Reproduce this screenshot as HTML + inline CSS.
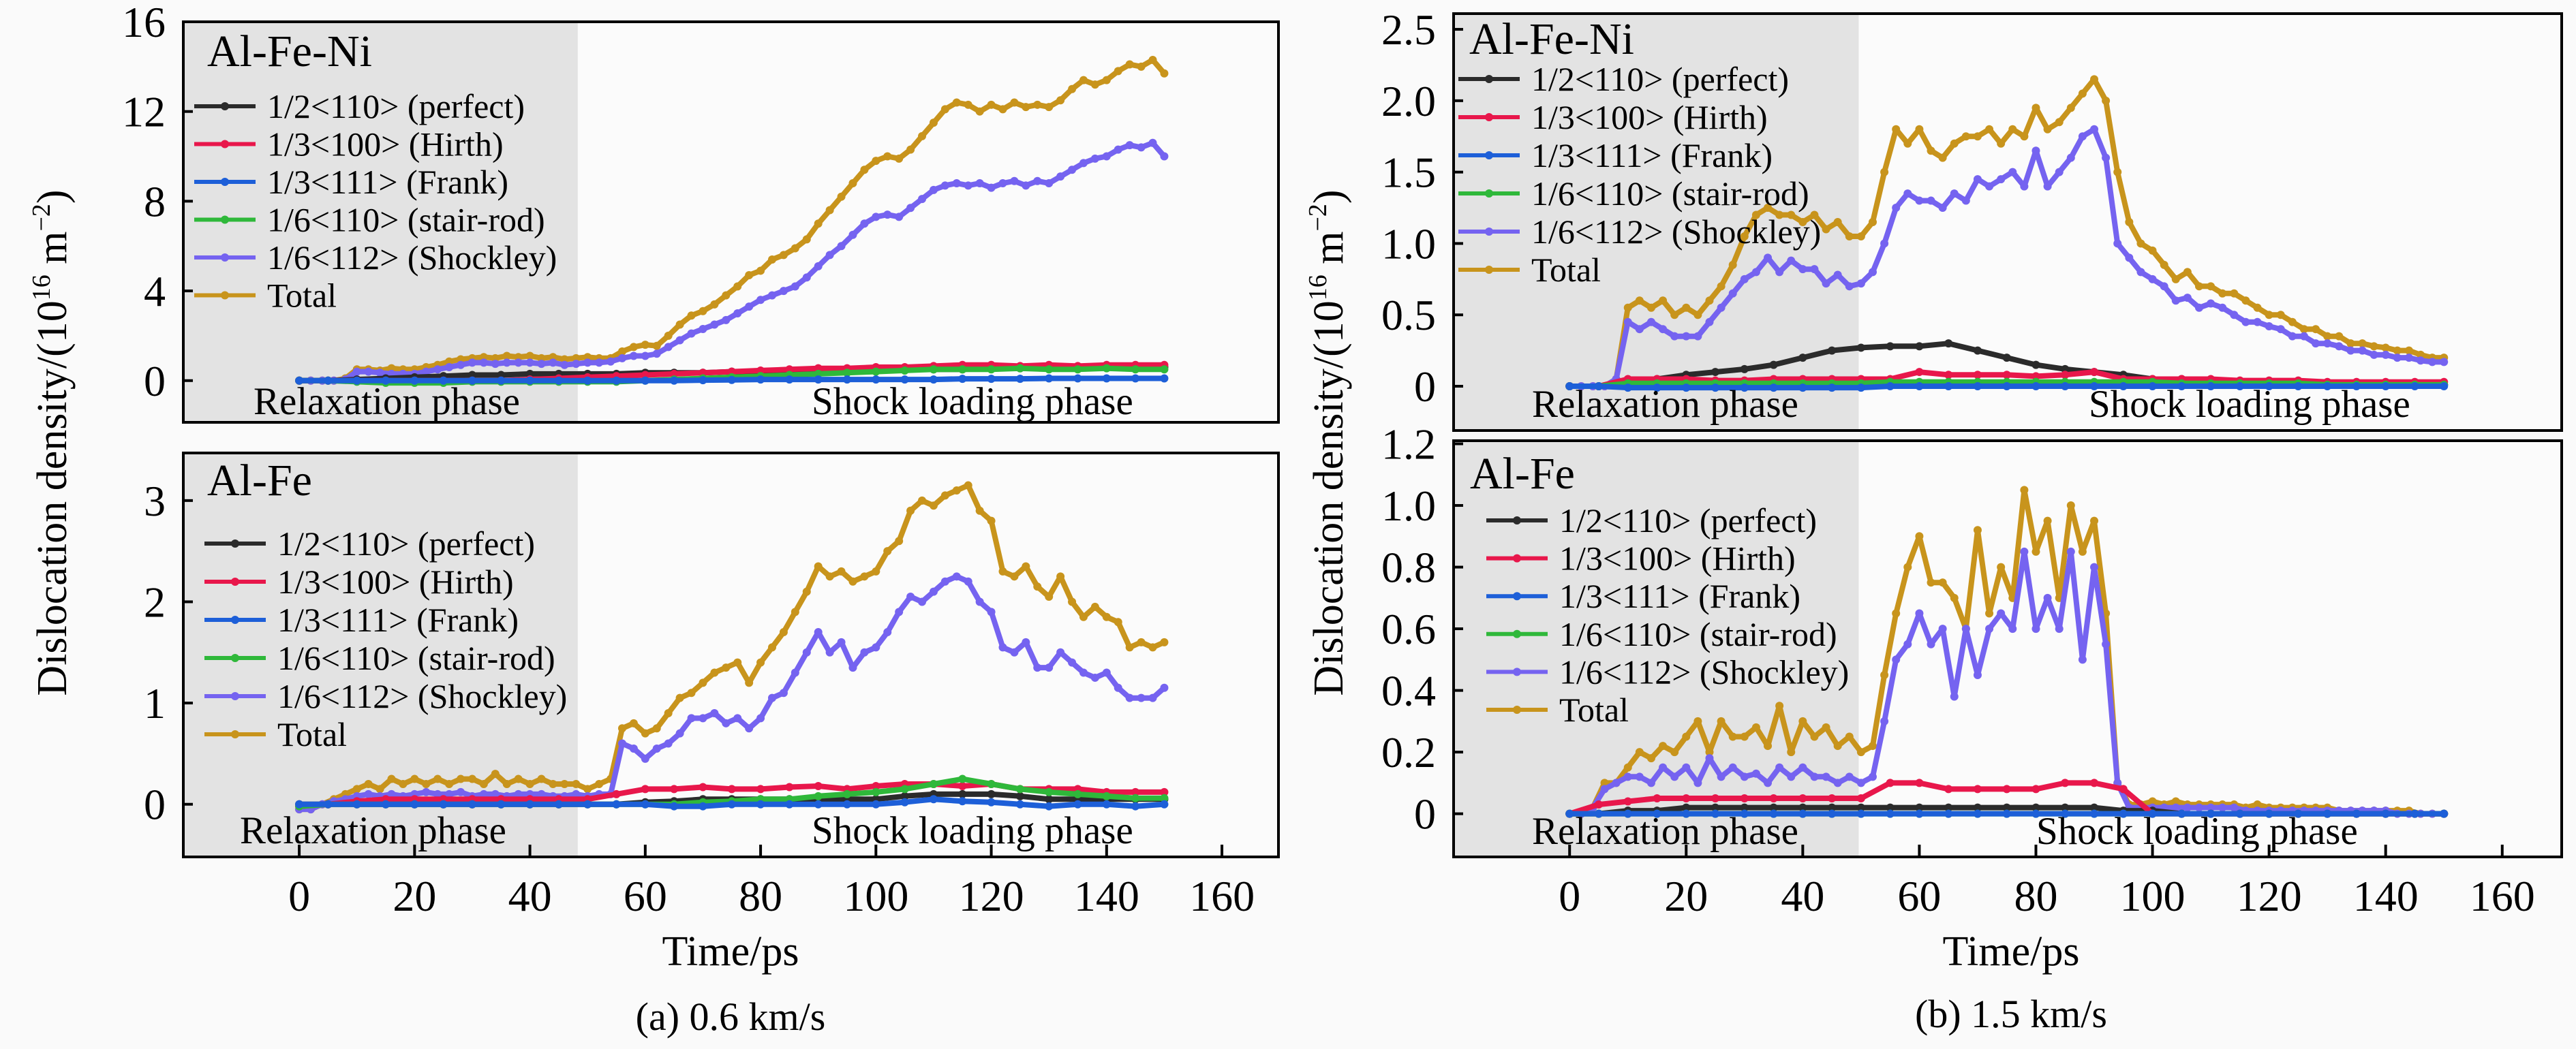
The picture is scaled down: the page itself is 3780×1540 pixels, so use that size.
<!DOCTYPE html>
<html><head><meta charset="utf-8"><style>
html,body{margin:0;padding:0;background:#fafafa}
svg{display:block}
svg text{font-family:"Liberation Serif","DejaVu Serif",serif;fill:#000}
</style></head><body>
<svg id="fig" width="3780" height="1540" viewBox="0 0 3780 1540" xmlns="http://www.w3.org/2000/svg" font-family="Liberation Serif, DejaVu Serif, serif">
<rect x="0" y="0" width="3780" height="1540" fill="#fafafa"/>
<g id="layer"></g>
<text x="1072" y="1417" font-size="62" text-anchor="middle">Time/ps</text>
<text x="2951" y="1417" font-size="62" text-anchor="middle">Time/ps</text>
<text x="1072" y="1512" font-size="58" text-anchor="middle">(a) 0.6 km/s</text>
<text x="2951" y="1508" font-size="58" text-anchor="middle">(b) 1.5 km/s</text>
<text transform="translate(97,650) rotate(-90)" font-size="62" text-anchor="middle">Dislocation density/(10<tspan dy="-24" font-size="38">16</tspan><tspan dy="24"> m</tspan><tspan dy="-24" font-size="38">−2</tspan><tspan dy="24">)</tspan></text>
<text transform="translate(1970,650) rotate(-90)" font-size="62" text-anchor="middle">Dislocation density/(10<tspan dy="-24" font-size="38">16</tspan><tspan dy="24"> m</tspan><tspan dy="-24" font-size="38">−2</tspan><tspan dy="24">)</tspan></text>
</svg>
<script>
// time grids
const tMain = [];
for (let t = 0; t <= 150; t += 2) tMain.push(t);
const tSmall = [];
for (let t = 0; t <= 150; t += 5) tSmall.push(t);

const seriesNames = ["1/2<110> (perfect)","1/3<100> (Hirth)","1/3<111> (Frank)","1/6<110> (stair-rod)","1/6<112> (Shockley)","Total"];
const seriesColors = ["#2b2b2b","#e8174b","#1d5fd8","#2fb83a","#7563f0","#c8941c"];
const xTicks = [0,20,40,60,80,100,120,140,160];

// Panel A top: Al-Fe-Ni 0.6 km/s
const aTopTotal = [0,0,0,0,0.1,0.5,0.5,0.45,0.55,0.5,0.5,0.6,0.7,0.85,0.95,1.0,1.05,1.0,1.1,1.05,1.1,1.0,1.05,0.95,1.0,1.05,1.0,1.0,1.3,1.5,1.6,1.55,2.0,2.5,2.9,3.1,3.4,3.8,4.2,4.7,4.9,5.4,5.6,5.9,6.3,7.0,7.6,8.2,8.8,9.4,9.8,10.0,9.9,10.3,10.9,11.5,12.1,12.4,12.3,12.0,12.3,12.1,12.4,12.2,12.3,12.2,12.5,13.0,13.4,13.2,13.4,13.8,14.1,14.0,14.3,13.7];
const aTopShockley = [0,0,0,0,0.05,0.4,0.4,0.35,0.3,0.3,0.3,0.4,0.5,0.6,0.7,0.8,0.8,0.75,0.8,0.8,0.8,0.75,0.8,0.7,0.75,0.8,0.8,0.85,1.0,1.1,1.1,1.2,1.5,1.8,2.1,2.3,2.5,2.7,3.0,3.3,3.6,3.8,4.0,4.2,4.6,5.1,5.6,6.0,6.5,7.0,7.3,7.4,7.3,7.7,8.1,8.5,8.7,8.8,8.7,8.8,8.6,8.8,8.9,8.7,8.9,8.8,9.1,9.4,9.7,9.9,10.0,10.3,10.5,10.4,10.6,10.0];
const aTopPerfect = [0,0,0.05,0.1,0.15,0.2,0.25,0.25,0.3,0.3,0.3,0.3,0.35,0.35,0.35,0.4,0.4,0.4,0.45,0.45,0.5,0.5,0.5,0.5,0.55,0.55,0.55,0.6,0.6,0.6,0.6];
const aTopHirth = [0,0,0,0,0,0,0,0,0.05,0.1,0.15,0.2,0.25,0.3,0.35,0.4,0.45,0.5,0.55,0.55,0.6,0.6,0.65,0.7,0.7,0.65,0.7,0.65,0.7,0.7,0.7];
const aTopFrank = [0,0,0,0,0,0,0,0,0,0,0,0,0,0,0.02,0.03,0.05,0.05,0.05,0.05,0.05,0.05,0.05,0.08,0.08,0.08,0.1,0.1,0.1,0.1,0.1];
const aTopStair = [0,0,-0.05,-0.1,-0.1,-0.1,-0.05,-0.05,-0.05,-0.05,-0.05,-0.05,0,0.05,0.1,0.15,0.2,0.25,0.3,0.35,0.4,0.45,0.5,0.5,0.5,0.55,0.5,0.5,0.55,0.5,0.5];
const aTopYTicks = [0,4,8,12,16];

// Panel A bottom: Al-Fe 0.6 km/s
const aBotTotal = [-0.05,-0.05,0,0.05,0.1,0.15,0.2,0.15,0.25,0.2,0.25,0.2,0.25,0.2,0.25,0.25,0.2,0.3,0.2,0.25,0.2,0.25,0.2,0.2,0.2,0.15,0.2,0.25,0.75,0.8,0.7,0.75,0.9,1.05,1.1,1.2,1.3,1.35,1.4,1.2,1.4,1.55,1.7,1.9,2.1,2.35,2.25,2.3,2.2,2.25,2.3,2.5,2.6,2.9,3.0,2.95,3.05,3.1,3.15,2.9,2.8,2.3,2.25,2.35,2.15,2.05,2.25,2.0,1.85,1.95,1.85,1.8,1.55,1.6,1.55,1.6];
const aBotShockley = [-0.05,-0.05,0,0.03,0.05,0.08,0.1,0.08,0.1,0.08,0.1,0.12,0.1,0.1,0.12,0.08,0.1,0.1,0.08,0.1,0.1,0.1,0.08,0.08,0.1,0.08,0.1,0.1,0.6,0.55,0.45,0.55,0.6,0.7,0.85,0.85,0.9,0.8,0.85,0.75,0.85,1.05,1.1,1.3,1.5,1.7,1.5,1.6,1.35,1.5,1.55,1.7,1.9,2.05,2.0,2.1,2.2,2.25,2.2,2.0,1.9,1.55,1.5,1.6,1.35,1.35,1.5,1.4,1.3,1.25,1.3,1.15,1.05,1.05,1.05,1.15];
const aBotPerfect = [0,0,0,0,0,0,0,0,0,0,0,0,0.02,0.03,0.05,0.05,0.05,0.05,0.05,0.05,0.05,0.08,0.1,0.1,0.1,0.08,0.05,0.05,0.05,0.05,0.05];
const aBotHirth = [-0.02,0,0.03,0.05,0.05,0.05,0.05,0.05,0.05,0.05,0.05,0.1,0.15,0.15,0.17,0.15,0.15,0.17,0.18,0.15,0.18,0.2,0.2,0.18,0.2,0.15,0.15,0.15,0.12,0.12,0.12];
const aBotFrank = [0,0,0,0,0,0,0,0,0,0,0,0,0,-0.02,-0.02,0,0,0,0,0,0,0.02,0.05,0.03,0.02,0,-0.02,0,0,-0.02,0];
const aBotStair = [-0.02,0,0,0,0,0,0,0,0,0,0,0,0,0,0.02,0.03,0.05,0.05,0.08,0.1,0.12,0.15,0.2,0.25,0.2,0.15,0.12,0.1,0.08,0.06,0.06];
const aBotYTicks = [0,1,2,3];

// Panel B top: Al-Fe-Ni 1.5 km/s
const bTopTotal = [0,0,0,0,0.05,0.55,0.6,0.55,0.6,0.5,0.55,0.5,0.6,0.7,0.85,1.05,1.2,1.25,1.2,1.2,1.15,1.2,1.1,1.15,1.05,1.05,1.15,1.5,1.8,1.7,1.8,1.65,1.6,1.7,1.75,1.75,1.8,1.7,1.8,1.75,1.95,1.8,1.85,1.95,2.05,2.15,2.0,1.5,1.15,1.0,0.95,0.85,0.75,0.8,0.7,0.7,0.65,0.65,0.6,0.55,0.5,0.5,0.45,0.4,0.4,0.35,0.35,0.3,0.3,0.28,0.27,0.25,0.25,0.22,0.2,0.2];
const bTopShockley = [0,0,0,0,0.05,0.45,0.4,0.45,0.4,0.35,0.35,0.35,0.45,0.55,0.65,0.75,0.8,0.9,0.8,0.88,0.82,0.82,0.72,0.78,0.7,0.72,0.8,1.0,1.25,1.35,1.3,1.3,1.25,1.35,1.3,1.45,1.4,1.45,1.5,1.4,1.65,1.4,1.5,1.6,1.75,1.8,1.6,1.0,0.9,0.8,0.75,0.7,0.6,0.62,0.55,0.58,0.55,0.5,0.45,0.45,0.42,0.4,0.35,0.35,0.3,0.3,0.28,0.25,0.25,0.22,0.22,0.2,0.2,0.18,0.17,0.17];
const bTopPerfect = [0,0,0.02,0.05,0.08,0.1,0.12,0.15,0.2,0.25,0.27,0.28,0.28,0.3,0.25,0.2,0.15,0.12,0.1,0.08,0.05,0.05,0.03,0.02,0.02,0.02,0.02,0.01,0.01,0.01,0.01];
const bTopHirth = [0,0,0.05,0.05,0.05,0.04,0.04,0.05,0.05,0.05,0.05,0.05,0.1,0.08,0.08,0.08,0.07,0.08,0.1,0.05,0.05,0.05,0.05,0.04,0.04,0.04,0.03,0.03,0.03,0.03,0.03];
const bTopFrank = [0,0,-0.01,-0.01,-0.01,-0.01,-0.01,-0.01,-0.01,-0.01,-0.01,0,0,0,0,0,0,0,0,0,0,0,0,0,0,0,0,0,0,0,0];
const bTopStair = [0,0,0.02,0.02,0.02,0.02,0.02,0.02,0.02,0.02,0.02,0.03,0.03,0.03,0.03,0.03,0.03,0.03,0.03,0.03,0.03,0.02,0.02,0.02,0.02,0.02,0.01,0.01,0.01,0.01,0.01];
const bTopYTicks = [0,0.5,1.0,1.5,2.0,2.5];

// Panel B bottom: Al-Fe 1.5 km/s
const bBotTotal = [0,0,0.02,0.1,0.1,0.15,0.2,0.18,0.22,0.2,0.25,0.3,0.2,0.3,0.25,0.25,0.28,0.22,0.35,0.2,0.3,0.25,0.28,0.22,0.25,0.2,0.22,0.45,0.65,0.8,0.9,0.75,0.75,0.7,0.6,0.92,0.65,0.8,0.7,1.05,0.85,0.95,0.7,1.0,0.85,0.95,0.65,0.1,0.03,0.03,0.04,0.03,0.04,0.03,0.03,0.03,0.03,0.03,0.02,0.03,0.02,0.02,0.02,0.02,0.02,0.02,0.01,0.01,0.01,0.01,0.01,0.01,0.01,0,0,0];
const bBotShockley = [0,0,0.02,0.08,0.1,0.12,0.12,0.1,0.15,0.12,0.15,0.1,0.18,0.12,0.15,0.12,0.13,0.1,0.15,0.12,0.15,0.12,0.12,0.1,0.12,0.1,0.12,0.3,0.5,0.55,0.65,0.55,0.6,0.38,0.6,0.45,0.6,0.65,0.6,0.85,0.6,0.7,0.6,0.85,0.5,0.8,0.55,0.1,0.02,0.02,0.02,0.02,0.02,0.02,0.02,0.02,0.02,0.02,0.01,0.01,0.01,0.01,0.01,0.01,0.01,0.01,0.01,0.01,0.01,0.01,0.01,0,0,0,0,0];
const bBotPerfect = [0,0,0.01,0.01,0.02,0.02,0.02,0.02,0.02,0.02,0.02,0.02,0.02,0.02,0.02,0.02,0.02,0.02,0.02,0.01,0.01,0,0,0,0,0,0,0,0,0,0];
const bBotHirth = [0,0.03,0.04,0.05,0.05,0.05,0.05,0.05,0.05,0.05,0.05,0.1,0.1,0.08,0.08,0.08,0.08,0.1,0.1,0.08,0,0,0,0,0,0,0,0,0,0,0];
const bBotFrank = [0,0,0,0,0,0,0,0,0,0,0,0,0,0,0,0,0,0,0,0,0,0,0,0,0,0,0,0,0,0,0];
const bBotStair = [0,0,0,0,0,0,0,0,0,0,0,0,0,0,0,0,0,0,0,0,0,0,0,0,0,0,0,0,0,0,0];
const bBotYTicks = [0,0.2,0.4,0.6,0.8,1.0,1.2];

const NS = "http://www.w3.org/2000/svg";
const FONT = "Liberation Serif, DejaVu Serif, serif";
const layer = document.getElementById("layer");
function mk(tag, attrs, parent) {
  const e = document.createElementNS(NS, tag);
  for (const k in attrs) e.setAttribute(k, attrs[k]);
  if (tag === "text") e.setAttribute("font-family", FONT);
  (parent || layer).appendChild(e);
  return e;
}

function drawPanel(p) {
  const g = mk("g", {});
  
  
  const sx = v => p.x0 + (v - p.xmin) / (p.xmax - p.xmin) * (p.x1 - p.x0);
  const sy = v => p.y1 - (v - p.ymin) / (p.ymax - p.ymin) * (p.y1 - p.y0);
  const bg = mk("rect", {x: p.x0, y: p.y0, width: p.x1 - p.x0, height: p.y1 - p.y0, fill: "#fbfbfb"}, g);
  
  
  const sh = mk("rect", {x: p.x0, y: p.y0, width: sx(p.shadeEnd) - p.x0, height: p.y1 - p.y0, fill: "#e3e3e3"}, g);
  
  

  const smallSets = [p.perfect, p.hirth, p.frank, p.stair];
  const all = [];
  smallSets.forEach((arr, i) => all.push({arr: arr, t: tSmall, i: i}));
  all.push({arr: p.shockley, t: tMain, i: 4});
  all.push({arr: p.total, t: tMain, i: 5});
  const order = [5, 4, 0, 1, 3, 2];
  order.forEach(idx => {
    const s = all[idx];
    const pts = s.arr.map((v, k) => sx(s.t[k]).toFixed(1) + "," + sy(v).toFixed(1)).join(" ");
    const pl = mk("polyline", {points: pts, fill: "none", stroke: seriesColors[s.i], "stroke-width": 8, "stroke-linejoin": "round"}, g);
    
    
    s.arr.forEach((v, k) => {
      const c = mk("circle", {cx: sx(s.t[k]), cy: sy(v), r: 6, fill: seriesColors[s.i]}, g);
      
      
    });
  });

  const fr = mk("rect", {x: p.x0, y: p.y0, width: p.x1 - p.x0, height: p.y1 - p.y0, fill: "none", stroke: "#000", "stroke-width": 4}, g);
  
  

  p.yticks.forEach(v => {
    const y = sy(v);
    const tk = mk("line", {x1: p.x0, x2: p.x0 + 14, y1: y, y2: y, stroke: "#000", "stroke-width": 4}, g);
    
    
    const lb = mk("text", {x: p.x0 - 26, y: y + 22, "font-size": 64, "text-anchor": "end"}, g);
    
    
    lb.textContent = p.fmt(v);
  });
  if (p.xlabels) {
    xTicks.forEach(v => {
      const x = sx(v);
      const tk = mk("line", {x1: x, x2: x, y1: p.y1, y2: p.y1 - 18, stroke: "#000", "stroke-width": 4}, g);
      
      
      const lb = mk("text", {x: x, y: 1337, "font-size": 64, "text-anchor": "middle"}, g);
      
      
      lb.textContent = v;
    });
  }
  const ti = mk("text", {x: p.titleX, y: p.titleY, "font-size": 66}, g);
  
  
  ti.textContent = p.title;

  const lg = mk("g", {}, g);
  
  
  seriesNames.forEach((nm, i) => {
    const y = p.legY + i * p.legStep;
    const ln = mk("line", {x1: p.legX, x2: p.legX + 90, y1: y, y2: y, stroke: seriesColors[i], "stroke-width": 6}, lg);
    
    
    const mc = mk("circle", {cx: p.legX + 45, cy: y, r: 6, fill: seriesColors[i]}, lg);
    
    
    const tx = mk("text", {x: p.legX + 107, y: y + 17, "font-size": 50}, lg);
    
    
    tx.textContent = nm;
  });
  const r1 = mk("text", {x: p.relX, y: p.phaseY, "font-size": 57}, g);
  
  
  r1.textContent = "Relaxation phase";
  const r2 = mk("text", {x: p.shockX, y: p.phaseY, "font-size": 57}, g);
  
  
  r2.textContent = "Shock loading phase";
}

const fmt0 = v => String(v);
const fmt1 = v => v === 0 ? "0" : v.toFixed(1);

drawPanel({id:"panel-a-al-fe-ni", x0:269, x1:1876, y0:32, y1:620, xmin:-20.1, xmax:169.8, ymin:-1.86, ymax:16,
  shadeEnd:48.3, total:aTopTotal, shockley:aTopShockley, perfect:aTopPerfect, hirth:aTopHirth, frank:aTopFrank, stair:aTopStair,
  yticks:aTopYTicks, fmt:fmt0, xlabels:false, title:"Al-Fe-Ni", titleX:304, titleY:97, legX:285, legY:156, legStep:55.5,
  relX:372, shockX:1191, phaseY:608});
drawPanel({id:"panel-a-al-fe", x0:269, x1:1876, y0:665, y1:1258, xmin:-20.1, xmax:169.8, ymin:-0.52, ymax:3.47,
  shadeEnd:48.3, total:aBotTotal, shockley:aBotShockley, perfect:aBotPerfect, hirth:aBotHirth, frank:aBotFrank, stair:aBotStair,
  yticks:aBotYTicks, fmt:fmt0, xlabels:true, title:"Al-Fe", titleX:304, titleY:727, legX:300, legY:798, legStep:56,
  relX:352, shockX:1191, phaseY:1238});
drawPanel({id:"panel-b-al-fe-ni", x0:2133, x1:3759, y0:20, y1:632, xmin:-19.9, xmax:170.2, ymin:-0.31, ymax:2.61,
  shadeEnd:49.6, total:bTopTotal, shockley:bTopShockley, perfect:bTopPerfect, hirth:bTopHirth, frank:bTopFrank, stair:bTopStair,
  yticks:bTopYTicks, fmt:fmt1, xlabels:false, title:"Al-Fe-Ni", titleX:2156, titleY:79, legX:2140, legY:116, legStep:56,
  relX:2248, shockX:3065, phaseY:612});
drawPanel({id:"panel-b-al-fe", x0:2133, x1:3759, y0:647, y1:1258, xmin:-19.9, xmax:170.2, ymin:-0.14, ymax:1.21,
  shadeEnd:49.6, total:bBotTotal, shockley:bBotShockley, perfect:bBotPerfect, hirth:bBotHirth, frank:bBotFrank, stair:bBotStair,
  yticks:bBotYTicks, fmt:fmt1, xlabels:true, title:"Al-Fe", titleX:2157, titleY:717, legX:2181, legY:764, legStep:55.6,
  relX:2248, shockX:2988, phaseY:1239});
</script>
</body></html>
